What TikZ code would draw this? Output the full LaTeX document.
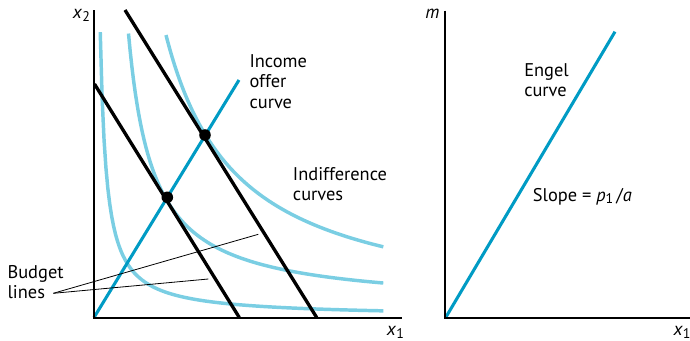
\documentclass[tikz,border=0pt]{standalone}
\usepackage{fontspec}
\setmainfont{PT Sans}
\definecolor{offerblue}{RGB}{0,155,196}
\definecolor{indiffblue}{RGB}{122,206,227}
\newcommand\vsub[2]{\textit{#1}\raisebox{-0.3ex}{\fontsize{10.5}{10.5}\selectfont #2}}
\begin{document}
\begin{tikzpicture}[x=0.75pt,y=-0.75pt,
  lbl/.style={inner sep=0pt, font=\fontsize{13.8}{15.3}\selectfont, align=left},
  axisline/.style={line width=1.5pt, black},
  budget/.style={line width=2.5pt, black},
  offer/.style={line width=2.3pt, offerblue},
  indiff/.style={line width=2.6pt, indiffblue},
  leader/.style={line width=0.6pt, black},
  eqdot/.style={circle, fill=black, inner sep=0pt, minimum size=8.7pt}]
\useasboundingbox (0,0) rectangle (690,340);

% ---- left panel: coordinates
\coordinate (O1) at (94,317.5);
\coordinate (Y1) at (94,10);
\coordinate (X1) at (401.5,317.5);
\coordinate (A1) at (94.5,84);
\coordinate (A2) at (239.3,317.5);
\coordinate (B1) at (125,10);
\coordinate (B2) at (316.7,317.5);
\coordinate (P1) at (239,80);
\coordinate (BL) at (53.3,293.3);
\coordinate (L1) at (258.3,234.3);
\coordinate (L2) at (208.3,279);

% indifference curves
\draw[indiff] plot[domain=6.25:289.3, samples=150, variable=\u] ({94+\u},{317-1780/\u});
\draw[indiff] plot[domain=34.5:289.3, samples=150, variable=\u] ({94+\u},{317-10-6700/(\u-10)});
\draw[indiff] plot[domain=72:289.3, samples=150, variable=\u] ({94+\u},{317-100*(203/\u)});

% income offer curve
\draw[offer] (O1) -- (P1);

% budget lines
\draw[budget] (A1) -- (A2);
\draw[budget] (B1) -- (B2);

% axes
\draw[axisline] (Y1) -- (O1) -- (X1);

% equilibrium points
\node[eqdot] (E1) at (167.3,197.3) {};
\node[eqdot] (E2) at (205,135) {};

% leader lines
\draw[leader] (BL) -- (L1);
\draw[leader] (BL) -- (L2);

% labels left
\node[lbl, anchor=base west] (x2lbl) at (72.7,18.3) {\vsub{x}{2}};
\node[lbl, anchor=base west] (x1lbl) at (386.7,335.5) {\vsub{x}{1}};
\node[lbl, anchor=north west] (ioc) at (249.3,54.2) {Income\\offer\\curve};
\node[lbl, anchor=north west] (ic) at (292.7,167) {Indifference\\curves};
\node[lbl, anchor=north west] (bud) at (7.3,265) {Budget\\lines};

% ---- right panel
\coordinate (O2) at (445,318);
\coordinate (Y2) at (445,10.5);
\coordinate (X2) at (692,318);
\coordinate (G1) at (615,31.7);
\draw[offer] (446,317) -- (G1);
\draw[axisline] (Y2) -- (O2) -- (X2);
\node[lbl, anchor=base west] (mlbl) at (425,18.3) {\textit{m}};
\node[lbl, anchor=base west] (x1rlbl) at (673.3,335.5) {\vsub{x}{1}};
\node[lbl, anchor=north west] (engel) at (524,63) {Engel\\curve};
\node[lbl, anchor=base west] (slope) at (532.7,201) {Slope = \vsub{p}{1}\,/\textit{a}};
\end{tikzpicture}
\end{document}
